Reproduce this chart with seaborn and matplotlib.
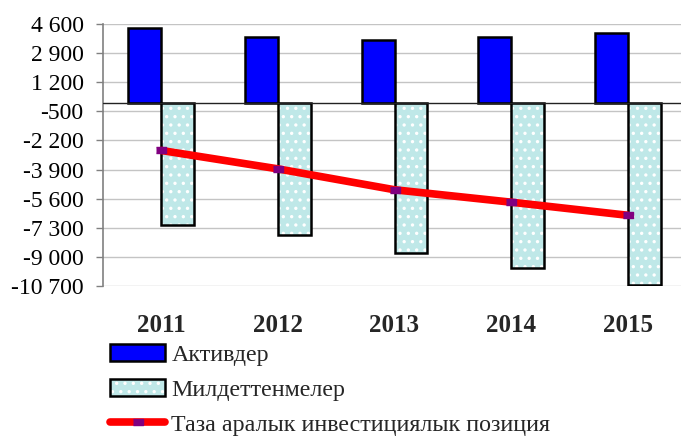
import numpy as np
import pandas as pd
import matplotlib
matplotlib.use("Agg")
import matplotlib.pyplot as plt
import seaborn as sns
from matplotlib.patches import Patch, Rectangle
from matplotlib.lines import Line2D
from matplotlib.legend_handler import HandlerTuple
from matplotlib.ticker import FuncFormatter, FixedLocator

# ========== data ==========
years = ["2011", "2012", "2013", "2014", "2015"]
assets = [4380, 3850, 3680, 3870, 4100]
liabilities = [-7165, -7710, -8760, -9675, -10670]
net_position = [-2785, -3860, -5080, -5805, -6570]
series_names = ["Активдер", "Милдеттенмелер", "Таза аралык инвестициялык позиция"]
yticks = [4600, 2900, 1200, -500, -2200, -3900, -5600, -7300, -9000, -10700]

df = pd.DataFrame({
    "year": years * 2,
    "value": assets + liabilities,
    "series": [series_names[0]] * 5 + [series_names[1]] * 5,
})

sns.set_theme(style="white")
plt.rcParams["font.family"] = ["Liberation Serif", "DejaVu Serif"]
plt.rcParams["axes.unicode_minus"] = False
plt.rcParams["hatch.linewidth"] = 1.2

fig = plt.figure(figsize=(6.81, 4.36), dpi=100)
ax = fig.add_axes([103 / 681, 1 - 286 / 436, 583 / 681, 262 / 436])

blue = "#0000ff"
cyan = "#bfe8e8"
sns.barplot(data=df, x="year", y="value", hue="series",
            palette=[blue, cyan], saturation=1, width=0.566, gap=0, ax=ax,
            edgecolor="black", linewidth=1.8, legend=False, zorder=3)

# style the liabilities bars: white dotted hatch + black outline
for p in ax.patches[len(years):2 * len(years)]:
    p.set_hatch("..")
    p.set_edgecolor("white")
    p.set_linewidth(0)
    ax.add_patch(Rectangle(p.get_xy(), p.get_width(), p.get_height(),
                           fill=False, ec="black", lw=1.8, zorder=3.5))

mark = [(-1.7, -1), (1.7, -1), (1.7, 1), (-1.7, 1)]
sns.lineplot(x=np.arange(len(years)), y=net_position, ax=ax, color="#ff0000",
             lw=5.5, zorder=5, solid_capstyle="round")
ax.plot(np.arange(len(years)), net_position, ls="none", marker=mark,
        ms=7, color="#800080", zorder=6)

ax.axhline(0, color="#222222", lw=1, zorder=4)
ax.set_ylim(-10700, 4600)
ax.set_xlim(-0.5, 4.5)
ax.yaxis.set_major_locator(FixedLocator(yticks))
ax.yaxis.set_major_formatter(FuncFormatter(lambda v, _: f"{v:,.0f}".replace(",", " ")))
ax.grid(axis="y", color="#c4c4c4", lw=1, zorder=0)
ax.set_axisbelow(True)
for s in ["top", "right", "bottom"]:
    ax.spines[s].set_visible(False)
ax.spines["left"].set_color("#808080")
ax.spines["left"].set_linewidth(1.2)
ax.tick_params(axis="y", left=True, length=5, width=1, color="#808080",
               pad=9, labelsize=17, labelcolor="black")
ax.tick_params(axis="x", bottom=False, pad=14, labelsize=18)
for t in ax.get_xticklabels():
    t.set_fontweight("bold")
ax.set_xlabel("")
ax.set_ylabel("")

handles = [
    Patch(facecolor=blue, edgecolor="black", lw=1.8),
    (Patch(facecolor=cyan, edgecolor="white", hatch="..", lw=0),
     Patch(fill=False, edgecolor="black", lw=1.8)),
    Line2D([0], [0], color="#ff0000", lw=5.5, marker=mark, ms=7,
           markerfacecolor="#800080", markeredgecolor="#800080"),
]
fig.legend(handles, series_names, loc="upper left",
           bbox_to_anchor=(110 / 681, 1 - 344 / 436), frameon=False,
           fontsize=17.3, handlelength=2.3, handleheight=0.7,
           handletextpad=0.25, labelspacing=0.55, borderpad=0,
           borderaxespad=0, handler_map={tuple: HandlerTuple(ndivide=1)})

fig.savefig("out.png", dpi=100)
